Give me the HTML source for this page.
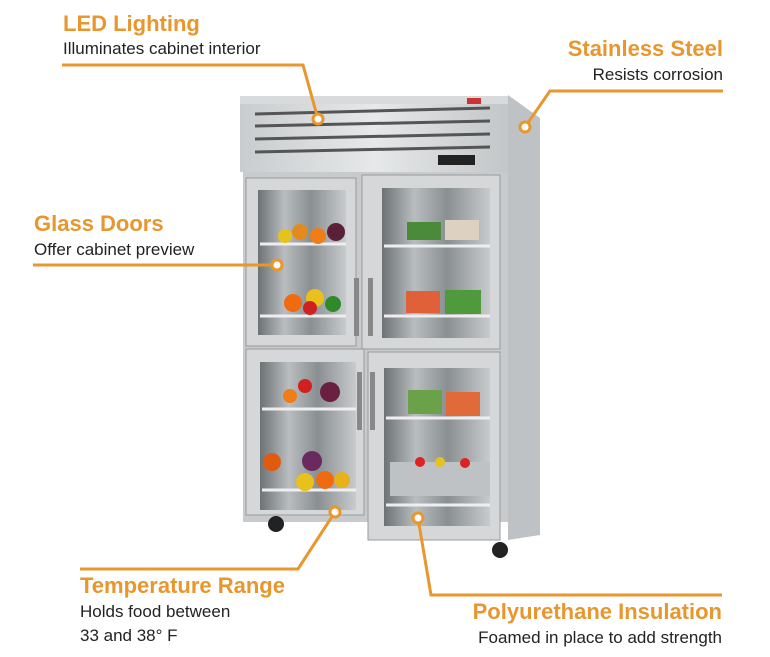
<!DOCTYPE html>
<html><head><meta charset="utf-8"><style>
html,body{margin:0;padding:0;background:#fff;width:770px;height:657px;overflow:hidden}
svg{display:block}
.t{font-family:"Liberation Sans",sans-serif;font-weight:bold;font-size:22px;fill:#e8962e}
.s{font-family:"Liberation Sans",sans-serif;font-size:17px;fill:#222}
</style></head><body>
<svg width="770" height="657" viewBox="0 0 770 657" xmlns="http://www.w3.org/2000/svg">
<defs>
<linearGradient id="st" x1="0" x2="1"><stop offset="0" stop-color="#c9ccce"/><stop offset=".5" stop-color="#e6e8e9"/><stop offset="1" stop-color="#c3c6c8"/></linearGradient>
<linearGradient id="gl" x1="0" x2="1"><stop offset="0" stop-color="#6d7275"/><stop offset=".3" stop-color="#b9bdbf"/><stop offset=".6" stop-color="#8a8f92"/><stop offset="1" stop-color="#c8cbcd"/></linearGradient>
</defs>
<!-- side panel -->
<polygon points="508,95 540,118 540,535 508,540" fill="#bfc2c4"/>
<!-- header -->
<rect x="240" y="102" width="268" height="70" fill="url(#st)"/>
<rect x="240" y="96" width="268" height="8" fill="#d8dadb"/>
<g stroke="#555" stroke-width="3">
<line x1="255" y1="114" x2="490" y2="108"/><line x1="255" y1="126" x2="490" y2="121"/>
<line x1="255" y1="139" x2="490" y2="134"/><line x1="255" y1="152" x2="490" y2="147"/>
</g>
<rect x="467" y="98" width="14" height="6" fill="#c33"/>
<rect x="438" y="155" width="37" height="10" fill="#222"/>
<!-- body -->
<rect x="243" y="172" width="265" height="350" fill="#c8cbcd"/>
<!-- doors -->
<g>
<rect x="246" y="178" width="110" height="168" fill="#d5d7d8" stroke="#999"/>
<rect x="258" y="190" width="88" height="145" fill="url(#gl)"/>
<rect x="362" y="175" width="138" height="174" fill="#d5d7d8" stroke="#999"/>
<rect x="382" y="188" width="108" height="150" fill="url(#gl)"/>
<rect x="246" y="349" width="118" height="166" fill="#d5d7d8" stroke="#999"/>
<rect x="260" y="362" width="96" height="148" fill="url(#gl)"/>
<rect x="368" y="352" width="132" height="188" fill="#d5d7d8" stroke="#999"/>
<rect x="384" y="368" width="106" height="158" fill="url(#gl)"/>
</g>
<!-- shelves -->
<g stroke="#eee" stroke-width="3">
<line x1="260" y1="244" x2="346" y2="244"/><line x1="260" y1="316" x2="346" y2="316"/>
<line x1="384" y1="246" x2="490" y2="246"/><line x1="384" y1="316" x2="490" y2="316"/>
<line x1="262" y1="409" x2="356" y2="409"/><line x1="262" y1="490" x2="356" y2="490"/>
<line x1="386" y1="418" x2="490" y2="418"/><line x1="386" y1="505" x2="490" y2="505"/>
</g>
<!-- produce -->
<g>
<circle cx="300" cy="232" r="8" fill="#e38a1c"/><circle cx="285" cy="236" r="7" fill="#e6c21d"/><circle cx="318" cy="236" r="8" fill="#f07d16"/><circle cx="336" cy="232" r="9" fill="#5a2038"/>
<circle cx="293" cy="303" r="9" fill="#f06a10"/><circle cx="315" cy="298" r="9" fill="#e8c11c"/><circle cx="333" cy="304" r="8" fill="#2f8a2a"/><circle cx="310" cy="308" r="7" fill="#d02020"/>
<rect x="407" y="222" width="34" height="18" fill="#4a8b3a"/><rect x="445" y="220" width="34" height="20" fill="#ddd2c0"/>
<rect x="406" y="291" width="34" height="22" fill="#e0603a"/><rect x="445" y="290" width="36" height="24" fill="#4f9a3c"/>
<circle cx="290" cy="396" r="7" fill="#f07d16"/><circle cx="305" cy="386" r="7" fill="#d02020"/><circle cx="330" cy="392" r="10" fill="#6a2040"/>
<circle cx="272" cy="462" r="9" fill="#e05a10"/><circle cx="312" cy="461" r="10" fill="#6a2a60"/><circle cx="305" cy="482" r="9" fill="#e8c11c"/><circle cx="325" cy="480" r="9" fill="#f06a10"/><circle cx="342" cy="480" r="8" fill="#e8b11c"/>
<rect x="408" y="390" width="34" height="24" fill="#6aa24a"/><rect x="446" y="392" width="34" height="24" fill="#e06a3a"/>
<rect x="390" y="462" width="100" height="34" fill="#bfc2c4"/><circle cx="420" cy="462" r="5" fill="#d22"/><circle cx="440" cy="462" r="5" fill="#e8c11c"/><circle cx="465" cy="463" r="5" fill="#d22"/>
</g>
<!-- handles -->
<g fill="#888"><rect x="354" y="278" width="5" height="58"/><rect x="368" y="278" width="5" height="58"/><rect x="357" y="372" width="5" height="58"/><rect x="370" y="372" width="5" height="58"/></g>
<!-- wheels -->
<circle cx="276" cy="524" r="8" fill="#222"/><circle cx="500" cy="550" r="8" fill="#222"/>
<!-- callouts -->
<g stroke="#e8962e" stroke-width="3" fill="none">
<polyline points="62,65 303,65 318,119"/>
<polyline points="723,91 550,91 525,127"/>
<polyline points="33,265 277,265"/>
<polyline points="80,569 298,569 335,512"/>
<polyline points="722,595 431,595 418,518"/>
</g>
<g fill="#fff" stroke="#e8962e" stroke-width="3">
<circle cx="318" cy="119" r="5"/><circle cx="525" cy="127" r="5"/><circle cx="277" cy="265" r="5"/><circle cx="335" cy="512" r="5"/><circle cx="418" cy="518" r="5"/>
</g>
<text class="t" x="63" y="31">LED Lighting</text>
<text class="s" x="63" y="54">Illuminates cabinet interior</text>
<text class="t" x="723" y="56" text-anchor="end">Stainless Steel</text>
<text class="s" x="723" y="80" text-anchor="end">Resists corrosion</text>
<text class="t" x="34" y="231">Glass Doors</text>
<text class="s" x="34" y="255">Offer cabinet preview</text>
<text class="t" x="80" y="593">Temperature Range</text>
<text class="s" x="80" y="617">Holds food between</text>
<text class="s" x="80" y="641">33 and 38° F</text>
<text class="t" x="722" y="619" text-anchor="end">Polyurethane Insulation</text>
<text class="s" x="722" y="643" text-anchor="end">Foamed in place to add strength</text>
</svg>
</body></html>
